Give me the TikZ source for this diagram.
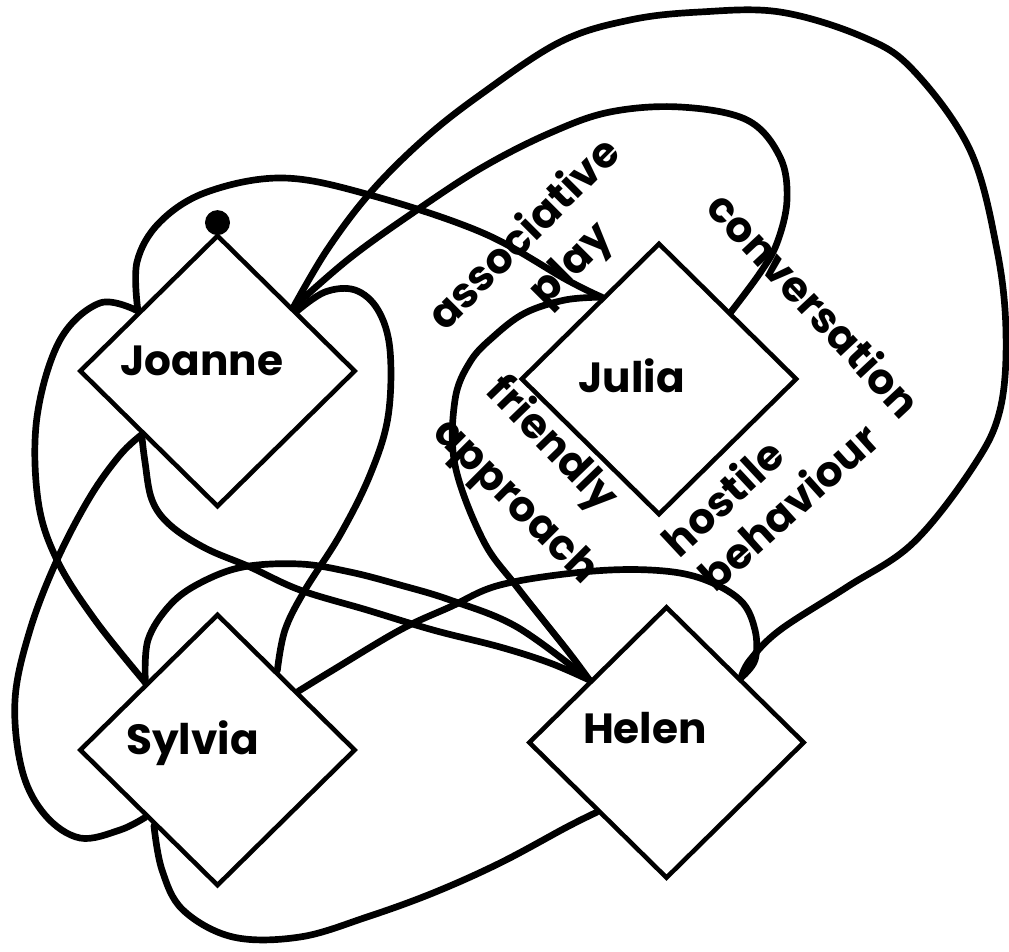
\documentclass[tikz,border=0pt]{standalone}
\usepackage{fontspec}
\setmainfont{Poppins}
\usepackage{tikz}
\usetikzlibrary{shapes.geometric}

\begin{document}
\begin{tikzpicture}[
    x=0.01cm, y=-0.01cm,
    kid/.style={diamond, draw=black, line width=1.3pt, minimum width=2.76cm, minimum height=2.72cm, inner sep=0pt},
    kidname/.style={font=\bfseries\fontsize{12}{14}\selectfont, inner sep=0pt},
    act/.style={font=\bfseries\fontsize{12}{14}\selectfont, inner sep=0pt},
    link/.style={line width=1.9pt, line join=round, line cap=round},
    blob/.style={circle, fill=black, inner sep=0pt, minimum size=0.25cm}
]
\useasboundingbox (0,0) rectangle (1009,952);

% The four children
\node[kid, label={[kidname, shift={(-15.5,-10)}]center:Joanne}] (joanne) at (217.5,371) {};
\node[kid, label={[kidname, shift={(-27.5,-3.5)}]center:Julia}] (julia) at (659,379) {};
\node[kid, label={[kidname, shift={(-25,-6.5)}]center:Sylvia}] (sylvia) at (217.5,750) {};
\node[kid, label={[kidname, shift={(-21.5,-14)}]center:Helen}] (helen) at (666.5,742.5) {};

\node[blob] (joanne-dot) at ([yshift=0.1cm]joanne.north) {};

% Kinds of contact
\node[act, rotate=45] (assoc) at (522,232) {associative};
\node[act, rotate=45] (play) at (573,266) {play};
\node[act, rotate=-47] (conv) at (815,304) {conversation};
\node[act, rotate=-46] (friendly) at (551,445) {friendly};
\node[act, rotate=-45] (approach) at (514,503) {approach};
\node[act, rotate=43] (hostile) at (722,497) {hostile};
\node[act, rotate=42] (behaviour) at (788,506) {behaviour};

% Joanne's lines
\draw[link] plot[smooth, tension=0.6] coordinates {(joanne.143) (137,262) (160,222) (207,192) (283,178) (370,195) (483,233) (567,280) (julia.125)};
\draw[link] plot[smooth, tension=0.6] coordinates {(joanne.143) (100,303) (60,340) (37,417) (38,500) (57,560) (95,620) (sylvia.137)};
\draw[link] plot[smooth, tension=0.6] coordinates {(joanne.40) (327,250) (370,193) (423,140) (480,95) (560,42) (630,20) (700,12) (780,12) (863,37) (913,70) (970,150) (997,250) (1006,333) (1000,410) (973,467) (913,543) (847,587) (780,630) (750,660) (helen.41)};
\draw[link] plot[smooth, tension=0.6] coordinates {(joanne.40) (350,258) (417,210) (483,167) (550,133) (610,112) (680,107) (747,120) (780,157) (787,200) (777,243) (760,273) (julia.43)};
\draw[link] plot[smooth, tension=0.6] coordinates {(joanne.37) (325,292) (355,290) (378,310) (390,350) (388,417) (370,475) (340,535) (305,590) (285,630) (sylvia.53)};
\draw[link] plot[smooth, tension=0.6] coordinates {(joanne.220) (120,455) (90,497) (57,560) (30,630) (15,700) (22,770) (45,815) (80,838) (120,830) (sylvia.223)};
\draw[link] plot[smooth, tension=0.6] coordinates {(joanne.220) (145,462) (152,500) (170,525) (205,548) (250,567) (300,590) (367,610) (433,630) (500,647) (550,663) (helen.141)};

% Sylvia's lines
\draw[link] plot[smooth, tension=0.6] coordinates {(sylvia.137) (148,640) (170,605) (200,583) (243,567) (300,564) (350,572) (400,585) (450,600) (517,627) (helen.141)};
\draw[link] plot[smooth, tension=0.6] coordinates {(sylvia.36) (333,670) (400,630) (450,607) (500,585) (583,572) (650,570) (700,578) (740,600) (755,630) (755,660) (helen.41)};

% Julia to Helen
\draw[link] plot[smooth, tension=0.6] coordinates {(julia.125) (565,300) (525,313) (493,337) (470,362) (455,400) (455,465) (483,540) (517,587) (567,650) (helen.141)};

% Helen to Sylvia, round the bottom
\draw[link] plot[smooth, tension=0.6] coordinates {(helen.225) (567,827) (500,863) (433,893) (367,917) (300,937) (233,937) (183,910) (162,870) (sylvia.230)};

\end{tikzpicture}
\end{document}
